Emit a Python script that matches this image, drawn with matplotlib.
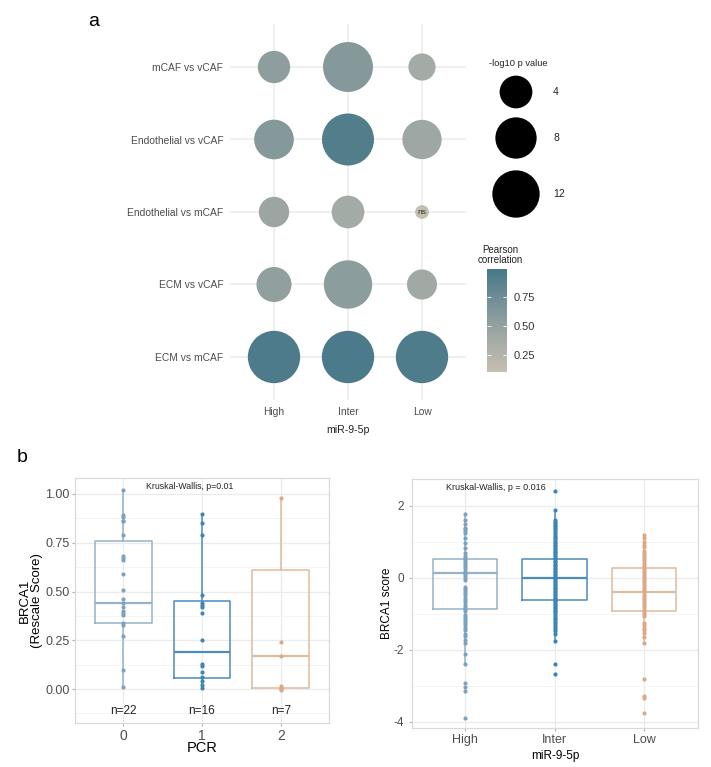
import numpy as np
import matplotlib
matplotlib.use("Agg")
import matplotlib.pyplot as plt
from matplotlib.colors import LinearSegmentedColormap, Normalize

plt.rcParams['font.family'] = ['Liberation Sans', 'DejaVu Sans']
plt.rcParams['axes.unicode_minus'] = False

# ---------- data: panel a (bubble plot) ----------
pairs = ["ECM vs mCAF", "ECM vs vCAF", "Endothelial vs mCAF",
         "Endothelial vs vCAF", "mCAF vs vCAF"]
mir_levels = ["High", "Inter", "Low"]
# -log10 p value per pair (High, Inter, Low)
logp = [[16.2, 16.2, 16.2],
        [4.9, 12.8, 3.1],
        [3.2, 4.0, 0.30],
        [7.1, 15.9, 6.9],
        [3.85, 14.1, 2.3]]
pearson = [[0.95, 0.96, 0.94],
           [0.52, 0.56, 0.40],
           [0.45, 0.38, 0.12],
           [0.60, 0.92, 0.42],
           [0.55, 0.60, 0.38]]
ns_cells = [("Endothelial vs mCAF", "Low")]
size_legend_vals = [4, 8, 12]
cbar_ticks = [0.25, 0.50, 0.75]

# ---------- data: panel b left (PCR) ----------
pcr_groups = ["0", "1", "2"]
pcr_n = [22, 16, 7]
pcr_pts = [
    [1.02, 0.89, 0.88, 0.86, 0.86, 0.79, 0.68, 0.67, 0.66, 0.59, 0.51,
     0.46, 0.44, 0.42, 0.40, 0.39, 0.38, 0.34, 0.33, 0.27, 0.10, 0.01],
    [0.90, 0.85, 0.79, 0.48, 0.44, 0.43, 0.42, 0.39, 0.25, 0.13, 0.12,
     0.085, 0.06, 0.04, 0.02, 0.005],
    [0.98, 0.24, 0.17, 0.015, 0.005, 0.0, -0.005],
]
pcr_q1 = [0.34, 0.055, 0.005]
pcr_med = [0.44, 0.19, 0.17]
pcr_q3 = [0.76, 0.45, 0.61]
pcr_lo = [0.01, 0.005, -0.005]
pcr_hi = [1.02, 0.90, 0.98]

# ---------- data: panel b right (miR-9-5p) ----------
mir_pts = [
    [1.78, 1.62, 1.50, 1.40, 1.35, 1.30, 1.24, 1.12, 0.98, 0.83, 0.68, 0.62,
     0.56, 0.50, 0.45, 0.40, 0.33, 0.27, 0.20, 0.15, 0.10, 0.05, 0.00, -0.05,
     -0.25, -0.30, -0.36, -0.42, -0.48, -0.55, -0.62, -0.68, -0.75, -0.80,
     -0.86, -0.92, -1.02, -1.08, -1.15, -1.20, -1.26, -1.32, -1.40, -1.46,
     -1.55, -1.60, -1.72, -1.80, -2.12, -2.40, -2.92, -3.02, -3.15, -3.90],
    [2.42, 1.88, 1.60, 1.56, 1.52, 1.48, 1.44, 1.40, 1.35, 1.30, 1.26, 1.20,
     1.15, 1.10, 1.05, 1.00, 0.96, 0.92, 0.88, 0.84, 0.80, 0.76, 0.72, 0.68,
     0.64, 0.60, 0.56, 0.52, 0.48, 0.44, 0.40, 0.36, 0.32, 0.28, 0.24, 0.20,
     0.16, 0.12, 0.08, 0.04, 0.00, -0.04, -0.08, -0.12, -0.16, -0.20, -0.24,
     -0.28, -0.32, -0.36, -0.40, -0.44, -0.48, -0.52, -0.56, -0.60, -0.64,
     -0.68, -0.72, -0.76, -0.80, -0.84, -0.88, -0.92, -0.96, -1.00, -1.05,
     -1.10, -1.15, -1.20, -1.25, -1.30, -1.36, -1.42, -1.48, -1.55, -1.75,
     -2.38, -2.68],
    [1.18, 1.12, 1.00, 0.92, 0.85, 0.76, 0.70, 0.64, 0.58, 0.52, 0.46, 0.40,
     0.34, 0.28, 0.22, 0.16, 0.10, 0.05, 0.00, -0.05, -0.10, -0.16, -0.22,
     -0.28, -0.34, -0.40, -0.46, -0.52, -0.58, -0.64, -0.70, -0.76, -0.82,
     -0.88, -0.94, -1.00, -1.05, -1.25, -1.32, -1.40, -1.45, -1.52, -1.65,
     -1.80, -2.80, -3.28, -3.35, -3.75],
]
mir_q1 = [-0.85, -0.62, -0.93]
mir_med = [0.13, 0.00, -0.40]
mir_q3 = [0.52, 0.53, 0.27]
mir_lo = [-2.40, -1.75, -1.82]
mir_hi = [1.78, 1.88, 1.18]

box_cols = ["#93B3CA", "#4C8CBA", "#E3B998"]
pt_cols = ["#7DA2BF", "#3D85B6", "#DCA985"]
GRID = "#EBEBEB"
TXT = "#4D4D4D"

W, H = 711, 767
fig = plt.figure(figsize=(W / 100, H / 100), dpi=100)


def px_axes(x0, y0, x1, y1):
    return fig.add_axes([x0 / W, 1 - y1 / H, (x1 - x0) / W, (y1 - y0) / H])


# ---------- panel a ----------
cmap = LinearSegmentedColormap.from_list("pc", ["#C6BFB2", "#8E9E9E", "#477889"])
norm = Normalize(0.105, 0.99)


def bubble_s(v):
    # circle diameter in px grows like a power of -log10 p
    d_px = 20.53 * np.power(np.asarray(v, dtype=float), 0.336)
    return (d_px * 0.72) ** 2


ax = px_axes(229.6, 23.5, 466.4, 400.5)
xs, ys, ss, cs = [], [], [], []
for i, pair in enumerate(pairs):
    for j, lev in enumerate(mir_levels):
        xs.append(j + 1)
        ys.append(i + 1)
        ss.append(logp[i][j])
        cs.append(pearson[i][j])
sc = ax.scatter(xs, ys, s=bubble_s(ss), c=cs, cmap=cmap, norm=norm,
                marker="o", linewidths=0, zorder=3)
for pair, lev in ns_cells:
    ax.text(mir_levels.index(lev) + 1, pairs.index(pair) + 1, "ns",
            ha="center", va="center", fontsize=6, color="#333333", zorder=4)
ax.set_xlim(0.4, 3.6)
ax.set_ylim(0.4, 5.6)
ax.set_xticks(range(1, 4))
ax.set_xticklabels(mir_levels)
ax.set_yticks(range(1, 6))
ax.set_yticklabels(pairs)
ax.grid(True, color=GRID, lw=1.1, zorder=0)
ax.set_axisbelow(True)
for s in ax.spines.values():
    s.set_visible(False)
ax.tick_params(length=0, labelsize=7.4, labelcolor=TXT, pad=4.5)
ax.set_xlabel("miR-9-5p", fontsize=7.6, color="#222222", labelpad=6)
fig.text(94 / W, 1 - 21 / H, "a", fontsize=14, ha="center", va="center")

# size legend
lax = px_axes(470, 40, 600, 240)
lax.set_xlim(470, 600)
lax.set_ylim(240, 40)
lax.axis("off")
key_y = [92, 138, 194]
lax.scatter([516] * 3, key_y, s=bubble_s(size_legend_vals), c="black",
            marker="o", linewidths=0)
for v, yk in zip(size_legend_vals, key_y):
    lax.text(553, yk, str(v), fontsize=7.5, va="center", color="#222222")
lax.text(518, 63, "-log10 p value", fontsize=6.7, ha="center", va="center",
         color="#222222")

# colorbar
cax = px_axes(487, 269, 507, 372)
cb = fig.colorbar(sc, cax=cax)
cb.outline.set_visible(False)
cb.set_ticks(cbar_ticks)
cb.set_ticklabels([f"{t:.2f}" for t in cbar_ticks])
cax.tick_params(direction="in", color="white", length=3, width=0.6,
                labelsize=8, labelcolor="#333333", pad=5, left=True, right=True)
fig.text(500 / W, 1 - 255 / H, "Pearson\ncorrelation", fontsize=7,
         ha="center", va="center", color="#222222", linespacing=1.1)


# ---------- panel b helpers ----------
def style_light(a, tsize):
    a.grid(True, which="major", color=GRID, lw=0.9, zorder=0)
    a.grid(True, which="minor", axis="y", color="#F4F4F4", lw=0.6, zorder=0)
    a.set_axisbelow(True)
    for s in a.spines.values():
        s.set_color("#D9D9D9")
        s.set_linewidth(0.9)
    a.tick_params(which="major", length=2.5, color="#B3B3B3",
                  labelcolor=TXT, labelsize=tsize)
    a.tick_params(which="minor", length=0)


def draw_boxes(a, q1, med, q3, lo, hi, pts):
    for k in range(3):
        st = [{"q1": q1[k], "med": med[k], "q3": q3[k],
               "whislo": lo[k], "whishi": hi[k], "fliers": []}]
        a.bxp(st, positions=[k], widths=0.72, showcaps=False,
              showfliers=False, patch_artist=False, manage_ticks=False,
              boxprops=dict(color=box_cols[k], lw=1.1),
              medianprops=dict(color=box_cols[k], lw=1.6),
              whiskerprops=dict(color=box_cols[k], lw=1.1))
        a.scatter([k] * len(pts[k]), pts[k], s=9, color=pt_cols[k],
                  linewidths=0, zorder=4)


# ---------- panel b left ----------
bl = px_axes(75, 478, 329, 723)
draw_boxes(bl, pcr_q1, pcr_med, pcr_q3, pcr_lo, pcr_hi, pcr_pts)
bl.set_xlim(-0.61, 2.61)
bl.set_ylim(-0.174, 1.082)
bl.set_xticks(range(3))
bl.set_xticklabels(pcr_groups)
bl.set_yticks([0, 0.25, 0.5, 0.75, 1.0])
bl.set_yticklabels(["0.00", "0.25", "0.50", "0.75", "1.00"])
bl.set_yticks([-0.125, 0.125, 0.375, 0.625, 0.875], minor=True)
style_light(bl, 9)
bl.tick_params(axis="x", labelsize=10, pad=1.5)
bl.tick_params(axis="y", pad=1.5)
for k, n in enumerate(pcr_n):
    bl.text(k, -0.113, f"n={n}", ha="center", va="center", fontsize=8.5,
            color="#222222")
bl.text(0.84, 1.036, "Kruskal-Wallis, p=0.01", ha="center", va="center",
        fontsize=6.3, color="#222222")
bl.set_xlabel("PCR", fontsize=10.5, labelpad=-1)
bl.set_ylabel("BRCA1\n(Rescale Score)", fontsize=9.5, linespacing=1.0)
bl.yaxis.set_label_coords(-0.125, 0.5)
fig.text(22 / W, 1 - 458 / H, "b", fontsize=14, ha="center", va="center")

# ---------- panel b right ----------
br = px_axes(412, 479, 698, 728)
draw_boxes(br, mir_q1, mir_med, mir_q3, mir_lo, mir_hi, mir_pts)
br.set_xlim(-0.59, 2.6)
br.set_ylim(-4.17, 2.75)
br.set_xticks(range(3))
br.set_xticklabels(mir_levels)
br.set_yticks([-4, -2, 0, 2])
br.set_yticks([-3, -1, 1], minor=True)
style_light(br, 8.5)
br.tick_params(axis="x", labelsize=9, pad=2)
br.text(0.34, 2.5, "Kruskal-Wallis, p = 0.016", ha="center", va="center",
        fontsize=6.5, color="#222222")
br.set_xlabel("miR-9-5p", fontsize=8.5, labelpad=3)
br.set_ylabel("BRCA1 score", fontsize=8.5)
br.yaxis.set_label_coords(-0.066, 0.5)

fig.savefig("out.png", dpi=100)
